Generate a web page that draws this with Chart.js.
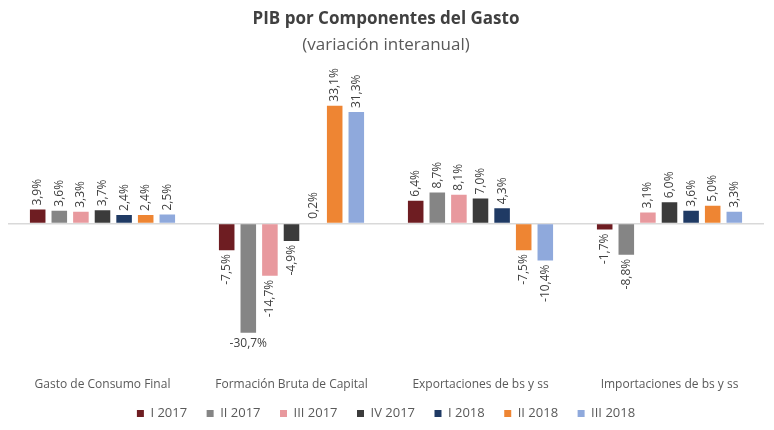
<!DOCTYPE html>
<html>
<head>
<meta charset="utf-8">
<script src="https://cdn.jsdelivr.net/npm/chart.js@4"></script>
<style>
  html, body { margin: 0; padding: 0; background: #fff; }
  #wrap { width: 774px; height: 430px; }
</style>
</head>
<body>
<div id="wrap"><canvas id="pibChart"></canvas></div>
<script>
// categories and quarterly series (variación interanual, %)
const categories = ['Gasto de Consumo Final', 'Formación Bruta de Capital', 'Exportaciones de bs y ss', 'Importaciones de bs y ss'];
const q1_2017 = [3.9, -7.5, 6.4, -1.7];
const q2_2017 = [3.6, -30.7, 8.7, -8.8];
const q3_2017 = [3.3, -14.7, 8.1, 3.1];
const q4_2017 = [3.7, -4.9, 7.0, 6.0];
const q1_2018 = [2.4, 0.2, 4.3, 3.6];
const q2_2018 = [2.4, 33.1, -7.5, 5.0];
const q3_2018 = [2.5, 31.3, -10.4, 3.3];
const seriesNames = ['I 2017', 'II 2017', 'III 2017', 'IV 2017', 'I 2018', 'II 2018', 'III 2018'];

const colors = ['#6e1d22', '#858585', '#e8999e', '#3b3b3b', '#1f3a64', '#ee8533', '#8fa9dc'];
const allSeries = [q1_2017, q2_2017, q3_2017, q4_2017, q1_2018, q2_2018, q3_2018];

const FONT = '"Open Sans", sans-serif';

// draws the value labels rotated, like the excel original
const barLabels = {
  id: 'barLabels',
  afterDatasetsDraw(chart) {
    const ctx = chart.ctx;
    const area = chart.chartArea;
    ctx.save();
    ctx.font = '12px ' + FONT;
    ctx.fillStyle = '#404040';
    chart.data.datasets.forEach((ds, i) => {
      const meta = chart.getDatasetMeta(i);
      meta.data.forEach((bar, j) => {
        const v = ds.data[j];
        const txt = v.toFixed(1).replace('.', ',') + '%';
        const w = ctx.measureText(txt).width;
        if (v < 0 && bar.y + 4 + w > area.bottom) {
          // not enough room: put it flat under the bar
          ctx.textAlign = 'center';
          ctx.textBaseline = 'top';
          ctx.fillText(txt, bar.x, bar.y + 5);
          return;
        }
        ctx.save();
        ctx.translate(bar.x, bar.y);
        ctx.rotate(-Math.PI / 2);
        ctx.textBaseline = 'middle';
        if (v >= 0) {
          ctx.textAlign = 'left';
          ctx.fillText(txt, 4, 0);
        } else {
          ctx.textAlign = 'right';
          ctx.fillText(txt, -4, 0);
        }
        ctx.restore();
      });
    });
    ctx.restore();
  }
};

new Chart(document.getElementById('pibChart'), {
  type: 'bar',
  data: {
    labels: categories,
    datasets: allSeries.map((d, i) => ({
      label: seriesNames[i],
      data: d,
      backgroundColor: colors[i],
      borderWidth: 0,
      categoryPercentage: 0.8,
      barPercentage: 0.72
    }))
  },
  options: {
    responsive: true,
    maintainAspectRatio: false,
    animation: false,
    layout: { padding: { left: 8, right: 10, top: 0, bottom: 0 } },
    scales: {
      x: {
        grid: { display: false },
        border: { display: false },
        ticks: { color: '#595959', font: { family: FONT, size: 12 }, padding: 2 }
      },
      y: {
        min: -40.5,
        max: 46,
        ticks: { display: false },
        border: { display: false },
        grid: {
          drawTicks: false,
          color: (c) => c.tick && c.tick.value === 0 ? '#d9d9d9' : 'rgba(0,0,0,0)',
          lineWidth: 1.5
        }
      }
    },
    plugins: {
      title: {
        display: true,
        text: 'PIB por Componentes del Gasto',
        color: '#404040',
        font: { family: FONT, size: 17, weight: 'bold' },
        padding: { top: 9, bottom: 2 }
      },
      subtitle: {
        display: true,
        text: '(variación interanual)',
        color: '#595959',
        font: { family: FONT, size: 17 },
        padding: { top: 4, bottom: 4 }
      },
      legend: {
        position: 'bottom',
        labels: {
          color: '#595959',
          font: { family: FONT, size: 13 },
          boxWidth: 7,
          boxHeight: 7,
          padding: 13,
          // wider gaps between entries, like the original
          generateLabels: (chart) => {
            const items = Chart.defaults.plugins.legend.labels.generateLabels(chart);
            return items.map((it, k) => k < items.length - 1 ? { ...it, text: it.text + '\u2002' } : it);
          }
        }
      },
      tooltip: { enabled: false }
    }
  },
  plugins: [barLabels]
});
</script>
</body>
</html>
